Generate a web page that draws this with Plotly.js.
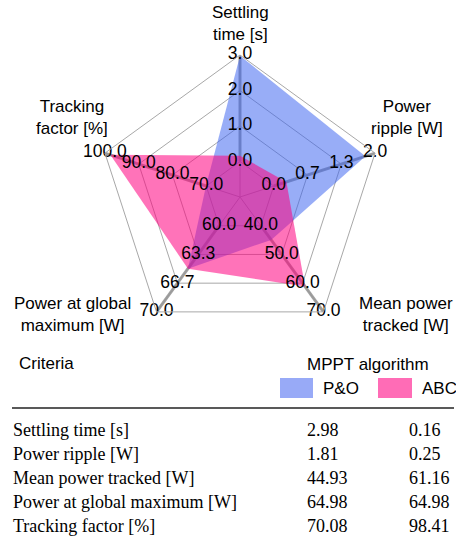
<!DOCTYPE html>
<html>
<head>
<meta charset="utf-8">
<script src="https://cdn.plot.ly/plotly-3.0.1.min.js"></script>
<style>html,body{margin:0;padding:0;background:#fff;}#chart{width:456px;height:549px;}</style>
</head>
<body>
<div id="chart"></div>
<script>
// ---- data ----
const criteria = ['Settling time [s]', 'Power ripple [W]', 'Mean power tracked [W]', 'Power at global maximum [W]', 'Tracking factor [%]'];
const axisLabels = ['Settling<br>time [s]', 'Power<br>ripple [W]', 'Mean power<br>tracked [W]', 'Power at global<br>maximum [W]', 'Tracking<br>factor [%]'];
const axisMin = [0, 0, 40, 60, 70];
const axisMax = [3, 2, 70, 70, 100];
const tickLabels = [
  ['0.0', '1.0', '2.0', '3.0'],
  ['0.0', '0.7', '1.3', '2.0'],
  ['40.0', '50.0', '60.0', '70.0'],
  ['60.0', '63.3', '66.7', '70.0'],
  ['70.0', '80.0', '90.0', '100.0']
];
const seriesNames = ['P&O', 'ABC'];
const poValues = [2.98, 1.81, 44.93, 64.98, 70.08];
const abcValues = [0.16, 0.25, 61.16, 64.98, 98.41];

// ---- styling ----
const W = 456, H = 549;
const cx = 240, cy = 197, R = 142;
const offset = 1/3; // inner pentagon (axis minimum) sits at 1/4 of the radius
const blueFill = 'rgba(60,100,240,0.53)';
const pinkFill = 'rgba(255,0,128,0.55)';
const legendBlue = 'rgb(152,170,247)';
const legendPink = 'rgb(255,108,182)';
const gridColor = '#a8a8a8';
const sans = 'Liberation Sans, Arial, sans-serif';
const serif = 'Liberation Serif, Times New Roman, serif';

const px = x => x / W;
const py = y => 1 - y / H;
const norm = (v, i) => offset + (v - axisMin[i]) / (axisMax[i] - axisMin[i]);
const levels = [0, 1/3, 2/3, 1].map(l => l + offset);

const traces = [];
// thick spokes
criteria.forEach((c) => {
  traces.push({
    type: 'scatterpolar', mode: 'lines',
    r: [levels[0], levels[3]], theta: [c, c],
    line: {color: 'rgba(150,150,150,0.9)', width: 3},
    showlegend: false, hoverinfo: 'skip'
  });
});
// series fills
traces.push({
  type: 'scatterpolar', name: seriesNames[0],
  r: poValues.map(norm), theta: criteria,
  fill: 'toself', fillcolor: blueFill, mode: 'lines', line: {width: 0, color: blueFill},
  showlegend: false, hoverinfo: 'skip'
});
traces.push({
  type: 'scatterpolar', name: seriesNames[1],
  r: abcValues.map(norm), theta: criteria,
  fill: 'toself', fillcolor: pinkFill, mode: 'lines', line: {width: 0, color: pinkFill},
  showlegend: false, hoverinfo: 'skip'
});
// tick labels along each spoke
criteria.forEach((c, i) => {
  traces.push({
    type: 'scatterpolar', mode: 'text',
    r: levels, theta: levels.map(() => c),
    text: tickLabels[i], textposition: 'middle center',
    textfont: {family: sans, size: 17.5, color: '#000'},
    cliponaxis: false, showlegend: false, hoverinfo: 'skip'
  });
});

const annotations = [];
const labelPos = [[240, 23], [407, 118], [406, 314], [72, 314], [72, 118]];
axisLabels.forEach((t, i) => {
  annotations.push({
    xref: 'paper', yref: 'paper', x: px(labelPos[i][0]), y: py(labelPos[i][1]),
    xanchor: 'center', yanchor: 'middle', align: 'center', showarrow: false,
    text: t, font: {family: sans, size: 17, color: '#000'}
  });
});
// table header
annotations.push({xref: 'paper', yref: 'paper', x: px(17), y: py(363), xanchor: 'left', yanchor: 'middle',
  showarrow: false, text: 'Criteria', font: {family: sans, size: 17, color: '#000'}});
annotations.push({xref: 'paper', yref: 'paper', x: px(368), y: py(364), xanchor: 'center', yanchor: 'middle',
  showarrow: false, text: 'MPPT algorithm', font: {family: sans, size: 17, color: '#000'}});
annotations.push({xref: 'paper', yref: 'paper', x: px(321), y: py(388), xanchor: 'left', yanchor: 'middle',
  showarrow: false, text: seriesNames[0], font: {family: sans, size: 17, color: '#000'}});
annotations.push({xref: 'paper', yref: 'paper', x: px(420), y: py(388), xanchor: 'left', yanchor: 'middle',
  showarrow: false, text: seriesNames[1], font: {family: sans, size: 17, color: '#000'}});
// table rows
const rowY = [430, 454, 478, 502, 526];
criteria.forEach((c, i) => {
  annotations.push({xref: 'paper', yref: 'paper', x: px(11), y: py(rowY[i]), xanchor: 'left', yanchor: 'middle',
    showarrow: false, text: c, font: {family: serif, size: 18, color: '#000'}});
  annotations.push({xref: 'paper', yref: 'paper', x: px(305), y: py(rowY[i]), xanchor: 'left', yanchor: 'middle',
    showarrow: false, text: poValues[i].toFixed(2), font: {family: serif, size: 18, color: '#000'}});
  annotations.push({xref: 'paper', yref: 'paper', x: px(407), y: py(rowY[i]), xanchor: 'left', yanchor: 'middle',
    showarrow: false, text: abcValues[i].toFixed(2), font: {family: serif, size: 18, color: '#000'}});
});

const shapes = [
  {type: 'rect', xref: 'paper', yref: 'paper', x0: px(280), x1: px(313), y0: py(378), y1: py(398),
    fillcolor: legendBlue, line: {width: 0}},
  {type: 'rect', xref: 'paper', yref: 'paper', x0: px(378), x1: px(412), y0: py(378), y1: py(398),
    fillcolor: legendPink, line: {width: 0}},
  {type: 'line', xref: 'paper', yref: 'paper', x0: px(12), x1: px(454), y0: py(408), y1: py(408),
    line: {color: '#222', width: 1.5}}
];

const layout = {
  width: W, height: H,
  margin: {l: 0, r: 0, t: 0, b: 0},
  paper_bgcolor: '#fff',
  showlegend: false,
  polar: {
    domain: {x: [px(cx - R), px(cx + R)], y: [py(cy + R), py(cy - R)]},
    bgcolor: '#fff',
    gridshape: 'linear',
    radialaxis: {
      range: [0, levels[3]], autorange: false,
      tickvals: levels, showticklabels: false, ticks: '',
      showline: false, gridcolor: gridColor, gridwidth: 1
    },
    angularaxis: {
      type: 'category', categoryorder: 'array', categoryarray: criteria,
      direction: 'clockwise', rotation: 90,
      showticklabels: false, ticks: '',
      showline: true, linecolor: gridColor, linewidth: 1,
      gridcolor: gridColor, gridwidth: 1
    }
  },
  annotations: annotations,
  shapes: shapes
};

Plotly.newPlot('chart', traces, layout, {displayModeBar: false, staticPlot: true});
</script>
</body>
</html>
